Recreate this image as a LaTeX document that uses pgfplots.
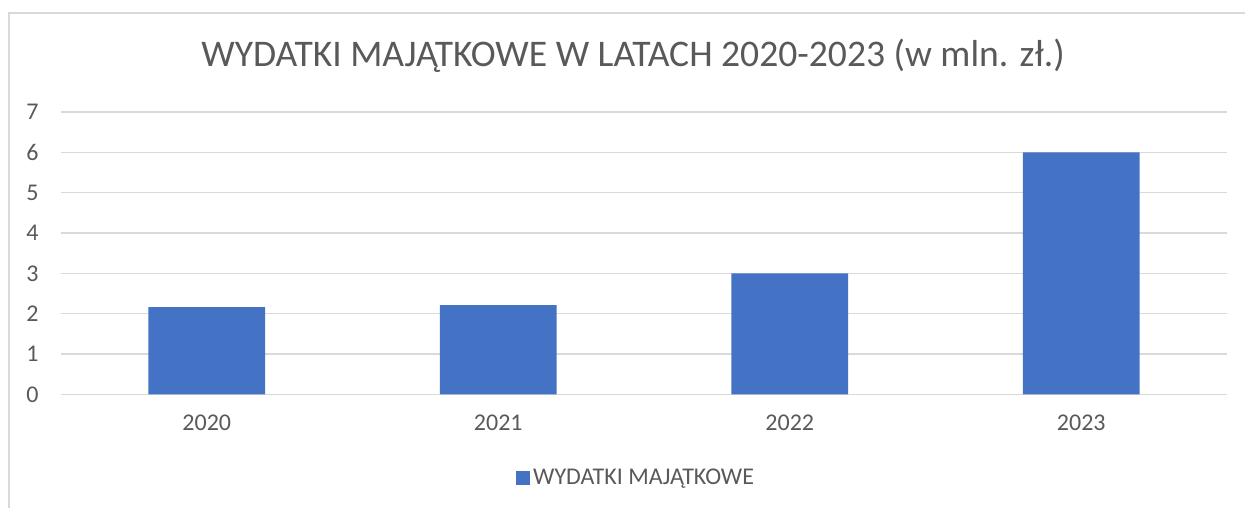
\documentclass[border=0pt]{standalone}
\usepackage{fontspec}
\setmainfont{Carlito}
\usepackage{pgfplots}
\pgfplotsset{compat=1.18}

\definecolor{barblue}{HTML}{4472C4}
\definecolor{txtgray}{HTML}{595959}
\definecolor{gridgray}{HTML}{D9D9D9}

\begin{document}
\begin{tikzpicture}
\useasboundingbox (0,0) rectangle (622.5pt,254pt);
% outer chart frame (bottom/right cut off in the reference)
\draw[gridgray, line width=0.75pt] (4.5pt,0) -- (4.5pt,247.5pt) -- (622.5pt,247.5pt);
\node[txtgray, font=\fontsize{18.8}{22}\selectfont] at (316.5pt,226pt)
  {WYDATKI MAJĄTKOWE W LATACH 2020-2023 (w mln. zł.)};
\begin{axis}[
  at={(30.5pt,56.85pt)}, anchor=south west,
  scale only axis, width=583pt, height=141.15pt,
  ybar, bar width=0.4,
  xmin=-0.5, xmax=3.5, ymin=0, ymax=7,
  xtick={0,1,2,3}, xticklabels={2020,2021,2022,2023},
  ytick={0,1,...,7},
  /pgf/number format/assume math mode=true,
  ymajorgrids, grid style={gridgray, line width=0.7pt},
  axis line style={draw=none}, major tick length=0pt,
  ticklabel style={txtgray, font=\fontsize{12}{14}\selectfont},
  y tick label style={anchor=east, inner sep=0pt, xshift=-11pt},
  x tick label style={anchor=north, inner sep=0pt, yshift=-10pt},
  legend style={at={(0.4936,-0.298)}, anchor=center, draw=none, fill=none,
                font=\fontsize{12}{14}\selectfont, text=txtgray,
                inner sep=0pt, nodes={inner sep=1.5pt}},
  legend image code/.code={\fill[barblue] (0pt,-3.5pt) rectangle (7pt,3.5pt);},
]
\addplot[fill=barblue, draw=none] coordinates {(0,2.16) (1,2.21) (2,3.0) (3,6.0)};
\addlegendentry{WYDATKI MAJĄTKOWE}
\end{axis}
\end{tikzpicture}
\end{document}
